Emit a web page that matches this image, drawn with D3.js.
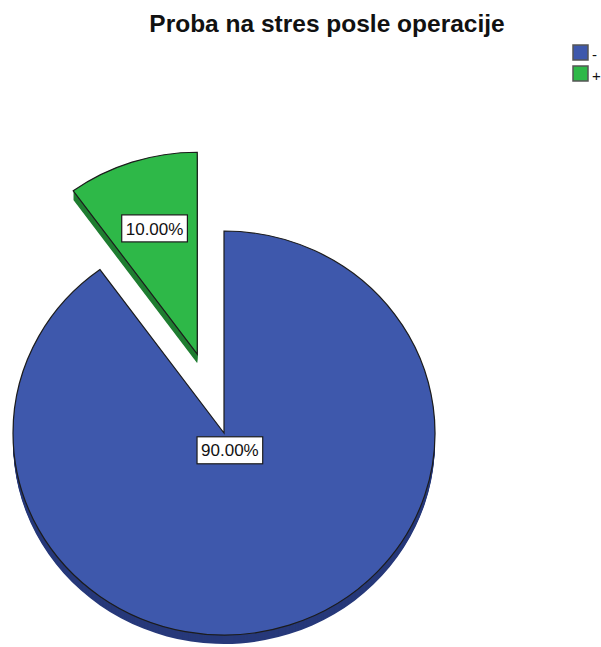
<!DOCTYPE html>
<html>
<head>
<meta charset="utf-8">
<script src="https://cdn.jsdelivr.net/npm/d3@7"></script>
<style>
  body { margin: 0; background: #fff; }
  svg { display: block; font-family: "Liberation Sans", Arial, sans-serif; }
</style>
</head>
<body>
<svg id="chart" width="601" height="647"></svg>
<script>
// Data
const title = "Proba na stres posle operacije";
const categories = ["-", "+"];
const percents = [90, 10];
const fillColors = ["#3E58AC", "#2EB848"];
const sideColors = ["#27397a", "#1f7d31"];
const exploded = [false, true];

// Layout
const W = 601, H = 647;
const cx = 224, cy = 433;     // pie centre
const rx = 211, ry = 202;     // tilted pie: horizontal / vertical radius
const depth = 9;              // thickness of the pie
const explodeFrac = 0.41;     // how far an exploded slice is pulled out
const labelFrac = [0.09, 0.655];

const svg = d3.select("#chart");
svg.append("rect").attr("width", W).attr("height", H).attr("fill", "#fff");

svg.append("text")
  .attr("x", 327).attr("y", 32)
  .attr("text-anchor", "middle")
  .attr("font-size", 24.5)
  .attr("font-weight", "bold")
  .attr("fill", "#111")
  .text(title);

const slices = d3.pie().sort(null).value(d => d)(percents);
const arc = d3.arc().innerRadius(0).outerRadius(rx);
const sy = ry / rx;

function offsetOf(d, i) {
  if (!exploded[i]) return [0, 0];
  const mid = (d.startAngle + d.endAngle) / 2;
  return [Math.sin(mid) * rx * explodeFrac, -Math.cos(mid) * ry * explodeFrac];
}

const groups = svg.selectAll("g.slice")
  .data(slices)
  .join("g")
  .attr("class", "slice")
  .attr("transform", (d, i) => {
    const [ox, oy] = offsetOf(d, i);
    return `translate(${cx + ox},${cy + oy})`;
  });

// Side walls: the slice swept downward
groups.each(function(d, i) {
  const g = d3.select(this);
  for (let k = depth; k >= 1; k--) {
    g.append("path")
      .attr("d", arc(d))
      .attr("transform", `translate(0,${k}) scale(1,${sy})`)
      .attr("fill", sideColors[i])
      .attr("stroke", "none");
  }
});

// Top faces
groups.append("path")
  .attr("d", d => arc(d))
  .attr("transform", `scale(1,${sy})`)
  .attr("fill", (d, i) => fillColors[i])
  .attr("stroke", "#1c1c1c")
  .attr("stroke-width", 1.2)
  .attr("stroke-linejoin", "miter")
  .attr("vector-effect", "non-scaling-stroke");

// Percentage labels
groups.each(function(d, i) {
  const g = d3.select(this);
  const mid = (d.startAngle + d.endAngle) / 2;
  const lx = Math.sin(mid) * rx * labelFrac[i];
  const ly = -Math.cos(mid) * ry * labelFrac[i];
  const lg = g.append("g").attr("transform", `translate(${lx},${ly})`);
  const rect = lg.append("rect");
  const t = lg.append("text")
    .attr("text-anchor", "middle")
    .attr("dy", "0.36em")
    .attr("font-size", 17)
    .attr("fill", "#111")
    .text(percents[i].toFixed(2) + "%");
  const bb = t.node().getBBox();
  const bw = bb.width + 8, bh = 27;
  rect.attr("x", -bw / 2).attr("y", -bh / 2)
    .attr("width", bw).attr("height", bh)
    .attr("fill", "#fff")
    .attr("stroke", "#1c1c1c")
    .attr("stroke-width", 1.2);
});

// Legend
const legend = svg.append("g").attr("transform", "translate(573,45)");
const items = legend.selectAll("g")
  .data(categories)
  .join("g")
  .attr("transform", (d, i) => `translate(0,${i * 21})`);
items.append("rect")
  .attr("width", 15).attr("height", 15)
  .attr("fill", (d, i) => fillColors[i])
  .attr("stroke", "#555")
  .attr("stroke-width", 1.5);
items.append("text")
  .attr("x", 19).attr("y", 15)
  .attr("font-size", 15)
  .attr("fill", "#111")
  .text(d => d);
</script>
</body>
</html>
